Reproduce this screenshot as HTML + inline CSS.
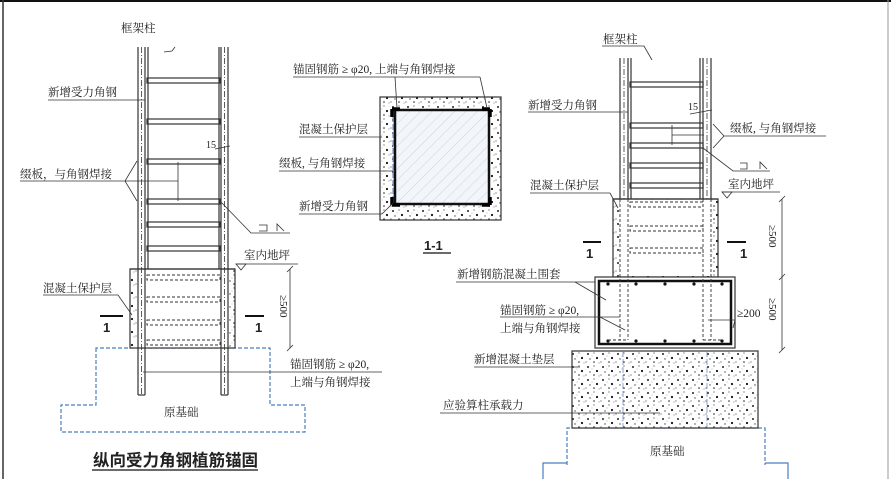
<!DOCTYPE html>
<html><head><meta charset="utf-8"><style>
html,body{margin:0;padding:0;background:#fff;}
svg{display:block;}
text{font-family:"Liberation Serif","Noto Serif CJK SC","Noto Sans CJK SC",serif;font-size:11.5px;fill:#222;}
text.n{font-family:"Liberation Sans",sans-serif;font-size:13px;font-weight:bold;}
text.s{font-size:10px;}
text.d{font-size:11px;}
text.t{font-family:"Noto Sans CJK SC",sans-serif;font-size:16.5px;font-weight:bold;}
</style></head><body>
<svg width="891" height="479" viewBox="0 0 891 479" xmlns="http://www.w3.org/2000/svg">
<defs>
<pattern id="conc" width="15" height="13" patternUnits="userSpaceOnUse">
<rect width="15" height="13" fill="#fff"/>
<circle cx="3" cy="3" r="1" fill="#222"/><circle cx="9" cy="2" r="0.6" fill="#444"/>
<circle cx="12" cy="7" r="1.1" fill="#111"/><circle cx="5" cy="8" r="0.7" fill="#444"/>
<circle cx="9" cy="11" r="0.8" fill="#222"/><circle cx="14" cy="12" r="0.5" fill="#555"/>
<circle cx="1" cy="11" r="0.6" fill="#555"/><circle cx="7" cy="5" r="0.4" fill="#666"/>
</pattern>
<pattern id="hatch" width="8" height="8" patternUnits="userSpaceOnUse" patternTransform="rotate(45)">
<rect width="8" height="8" fill="#f2f6fa"/><line x1="0" y1="0" x2="0" y2="8" stroke="#c7d3dd" stroke-width="1"/>
</pattern>
</defs>
<rect width="891" height="479" fill="#fff"/>
<line x1="0" y1="1" x2="891" y2="1" stroke="#111" stroke-width="2"/>
<line x1="3" y1="0" x2="3" y2="479" stroke="#333" stroke-width="1.5"/>
<line x1="888" y1="0" x2="888" y2="479" stroke="#999" stroke-width="1"/>

<!-- ============ LEFT DIAGRAM ============ -->
<g stroke="#333" fill="none" stroke-width="1.2">
<path d="M96 348 V405 H61 V432 H305 V405 H270 V348 Z" stroke="#4a7fc0" stroke-dasharray="4 2"/>
<rect x="130" y="269" width="105" height="79" fill="url(#conc)"/>
<rect x="137" y="270" width="92" height="77" fill="#fff" stroke="none"/>
<line x1="130" y1="269" x2="235" y2="269"/>
<line x1="138" y1="47" x2="138" y2="395"/>
<line x1="145" y1="47" x2="145" y2="395"/>
<line x1="141.5" y1="47" x2="141.5" y2="395" stroke-dasharray="6 2 1 2" stroke-width="0.8"/>
<line x1="148" y1="47" x2="148" y2="269"/>
<line x1="219" y1="47" x2="219" y2="269"/>
<line x1="221" y1="47" x2="221" y2="395"/>
<line x1="228" y1="47" x2="228" y2="395"/>
<line x1="224.5" y1="47" x2="224.5" y2="395" stroke-dasharray="6 2 1 2" stroke-width="0.8"/>
<line x1="138" y1="395" x2="145" y2="395"/><line x1="221" y1="395" x2="228" y2="395"/>
<rect x="147" y="78" width="73" height="5"/>
<rect x="147" y="119" width="73" height="5"/>
<rect x="147" y="159" width="73" height="5"/>
<rect x="147" y="199" width="73" height="5"/>
<rect x="147" y="222" width="73" height="5"/>
<rect x="147" y="246" width="73" height="5"/>
<g stroke-dasharray="3 2" stroke-width="0.9">
<rect x="147" y="275" width="73" height="5"/>
<rect x="147" y="297" width="73" height="5"/>
<rect x="147" y="320" width="73" height="5"/>
<rect x="147" y="340" width="73" height="5"/>
</g>
<path d="M164 52 L172 51 L175 47" stroke-width="0.8"/>
<line x1="48" y1="100" x2="145" y2="100" stroke-width="0.8"/>
<line x1="20" y1="181" x2="178" y2="181" stroke-width="0.8"/>
<line x1="178" y1="162" x2="178" y2="201" stroke-width="0.8"/>
<path d="M125 181 L137 161 M125 181 L137 201" stroke-width="0.8"/>
<path d="M220 201 L251 233 H290" stroke-width="0.8"/>
<path d="M259 225 H267 V231 H259 M277 231 L277 224 L284 231" stroke-width="0.8"/>
<line x1="215" y1="149" x2="230" y2="146" stroke-width="0.8"/>
<line x1="236" y1="264" x2="298" y2="264" stroke-width="0.8"/>
<path d="M236 264 L246 264 L241 270 Z" stroke-width="0.8"/>
<line x1="43" y1="295" x2="118" y2="295" stroke-width="0.8"/>
<line x1="118" y1="295" x2="132" y2="315" stroke-width="0.8"/>
<line x1="290" y1="269" x2="290" y2="348" stroke-width="0.8"/>
<path d="M287 272 L293 266 M287 351 L293 345" stroke-width="0.8"/>
<line x1="143" y1="372" x2="382" y2="372" stroke-width="0.8"/>
<line x1="100" y1="316" x2="123" y2="316" stroke-width="2" stroke="#111"/>
<line x1="245" y1="316" x2="264" y2="316" stroke-width="2" stroke="#111"/>
<line x1="92" y1="470" x2="258" y2="470" stroke="#111" stroke-width="1.2"/>
</g>
<text x="121" y="32">框架柱</text>
<text x="48" y="96">新增受力角钢</text>
<text x="206" y="148" class="s">15</text>
<text x="20" y="178">缀板，与角钢焊接</text>
<text x="244" y="259">室内地坪</text>
<text x="43" y="292">混凝土保护层</text>
<text x="103" y="332" class="n">1</text>
<text x="255" y="332" class="n">1</text>
<text transform="translate(280,295) rotate(90)" class="d">≥500</text>
<text x="290" y="368">锚固钢筋 ≥ φ20,</text>
<text x="290" y="386">上端与角钢焊接</text>
<text x="164" y="416">原基础</text>
<text x="93" y="466" class="t">纵向受力角钢植筋锚固</text>

<!-- ============ SECTION 1-1 ============ -->
<g stroke="#333" fill="none">
<rect x="380" y="97" width="121" height="123" fill="url(#conc)" stroke-width="1.2"/>
<rect x="393" y="110" width="96" height="94" fill="url(#hatch)" stroke="#5a7fc0" stroke-dasharray="6 2" stroke-width="1"/>
<path d="M395 110 V204 M489 110 V204 M393 110 H489 M393 204 H489" stroke="#111" stroke-width="2.5"/>
<path d="M392 109 h8 M392 109 v8 M490 109 h-8 M490 109 v8 M392 205 h8 M392 205 v-8 M490 205 h-8 M490 205 v-8" stroke="#000" stroke-width="3.5"/>
<g stroke-width="0.8">
<line x1="293" y1="77" x2="480" y2="77"/>
<line x1="395" y1="77" x2="397" y2="108"/>
<line x1="480" y1="77" x2="487" y2="108"/>
<line x1="299" y1="137" x2="382" y2="137"/>
<line x1="279" y1="171" x2="395" y2="171"/>
<line x1="299" y1="214" x2="382" y2="214"/>
<line x1="382" y1="214" x2="393" y2="203"/>
<line x1="423" y1="253" x2="451" y2="253" stroke="#111" stroke-width="1.2"/>
</g>
</g>
<text x="293" y="73">锚固钢筋 ≥ φ20, 上端与角钢焊接</text>
<text x="299" y="133">混凝土保护层</text>
<text x="279" y="167">缀板, 与角钢焊接</text>
<text x="299" y="210">新增受力角钢</text>
<text x="424" y="250" class="n">1-1</text>

<!-- ============ RIGHT DIAGRAM ============ -->
<g stroke="#333" fill="none" stroke-width="1.2">
<path d="M567 465 V428 H765 V465" stroke="#4a7fc0" stroke-dasharray="4 2"/>
<path d="M543 479 V463 H567 M765 463 H788 V479" stroke="#4a7fc0"/>
<rect x="572" y="351" width="186" height="77" fill="url(#conc)"/>
<line x1="623" y1="351" x2="623" y2="428" stroke="#5a7fc0" stroke-width="0.7" stroke-dasharray="6 2"/>
<line x1="707" y1="351" x2="707" y2="428" stroke="#5a7fc0" stroke-width="0.7" stroke-dasharray="6 2"/>
<rect x="613" y="199" width="105" height="78" fill="url(#conc)"/>
<rect x="620" y="200" width="91" height="76" fill="#fff" stroke="none"/>
<line x1="613" y1="199" x2="718" y2="199"/>
<rect x="595" y="277" width="140" height="71" fill="#fff"/>
<rect x="599" y="281" width="132" height="63" stroke="#111" stroke-width="2.5"/>
<g fill="#111" stroke="none">
<circle cx="636" cy="284" r="1.6"/><circle cx="665" cy="284" r="1.6"/><circle cx="694" cy="284" r="1.6"/>
<circle cx="608" cy="284" r="1.6"/><circle cx="722" cy="284" r="1.6"/>
<circle cx="636" cy="341" r="1.6"/><circle cx="665" cy="341" r="1.6"/><circle cx="694" cy="341" r="1.6"/>
<circle cx="608" cy="341" r="1.6"/><circle cx="722" cy="341" r="1.6"/>
</g>
<line x1="620" y1="58" x2="620" y2="199"/>
<line x1="628" y1="58" x2="628" y2="199"/>
<line x1="631" y1="58" x2="631" y2="199"/>
<line x1="700" y1="58" x2="700" y2="199"/>
<line x1="703" y1="58" x2="703" y2="199"/>
<line x1="711" y1="58" x2="711" y2="199"/>
<line x1="624" y1="58" x2="624" y2="199" stroke-dasharray="6 2 1 2" stroke-width="0.8"/>
<line x1="707" y1="58" x2="707" y2="199" stroke-dasharray="6 2 1 2" stroke-width="0.8"/>
<g stroke-dasharray="3 2" stroke-width="0.9">
<line x1="620" y1="199" x2="620" y2="340"/><line x1="628" y1="199" x2="628" y2="340"/>
<line x1="703" y1="199" x2="703" y2="340"/><line x1="711" y1="199" x2="711" y2="340"/>
<path d="M608 340 H628 M703 340 H722"/>
<rect x="630" y="202" width="73" height="5"/>
<rect x="630" y="226" width="73" height="5"/>
<rect x="630" y="248" width="73" height="5"/>
</g>
<rect x="630" y="82" width="73" height="5"/>
<rect x="630" y="123" width="73" height="5"/>
<rect x="630" y="143" width="73" height="5"/>
<rect x="630" y="163" width="73" height="5"/>
<rect x="630" y="183" width="73" height="5"/>
<g stroke-width="0.8">
<path d="M602 46 H644 L652 60"/>
<line x1="528" y1="112" x2="628" y2="112"/>
<line x1="690" y1="114" x2="712" y2="110"/>
<line x1="672" y1="125" x2="672" y2="145"/>
<line x1="672" y1="135" x2="704" y2="135"/>
<line x1="724" y1="136" x2="826" y2="136"/>
<path d="M713 124 L724 136 L713 148"/>
<path d="M703 148 L733 171 H770"/>
<path d="M740 163 H747 V169 H740 M760 169 L760 162 L767 169"/>
<line x1="530" y1="193" x2="610" y2="193"/>
<line x1="610" y1="193" x2="618" y2="208"/>
<line x1="722" y1="192" x2="780" y2="192"/>
<path d="M722 192 L732 192 L727 198 Z"/>
<line x1="782" y1="199" x2="782" y2="350"/>
<path d="M779 202 L785 196 M779 280 L785 274 M779 353 L785 347"/>
<line x1="456" y1="282" x2="595" y2="282"/>
<line x1="575" y1="282" x2="606" y2="300"/>
<line x1="500" y1="317" x2="620" y2="317"/>
<line x1="600" y1="317" x2="625" y2="330"/>
<line x1="708" y1="320" x2="735" y2="320"/>
<line x1="735" y1="320" x2="733" y2="328"/>
<line x1="474" y1="367" x2="580" y2="367"/>
<line x1="440" y1="413" x2="660" y2="413"/>
<line x1="583" y1="242" x2="601" y2="242" stroke-width="2" stroke="#111"/>
<line x1="727" y1="242" x2="746" y2="242" stroke-width="2" stroke="#111"/>
</g>
</g>
<text x="603" y="43">框架柱</text>
<text x="528" y="109">新增受力角钢</text>
<text x="688" y="110" class="s">15</text>
<text x="730" y="132">缀板, 与角钢焊接</text>
<text x="530" y="189">混凝土保护层</text>
<text x="728" y="188">室内地坪</text>
<text x="586" y="258" class="n">1</text>
<text x="740" y="258" class="n">1</text>
<text transform="translate(769,225) rotate(90)" class="d">≥500</text>
<text transform="translate(769,298) rotate(90)" class="d">≥500</text>
<text x="457" y="278">新增钢筋混凝土围套</text>
<text x="500" y="314">锚固钢筋 ≥ φ20,</text>
<text x="500" y="332">上端与角钢焊接</text>
<text x="737" y="317">≥200</text>
<text x="474" y="363">新增混凝土垫层</text>
<text x="443" y="409">应验算柱承载力</text>
<text x="650" y="455">原基础</text>
</svg>
</body></html>
